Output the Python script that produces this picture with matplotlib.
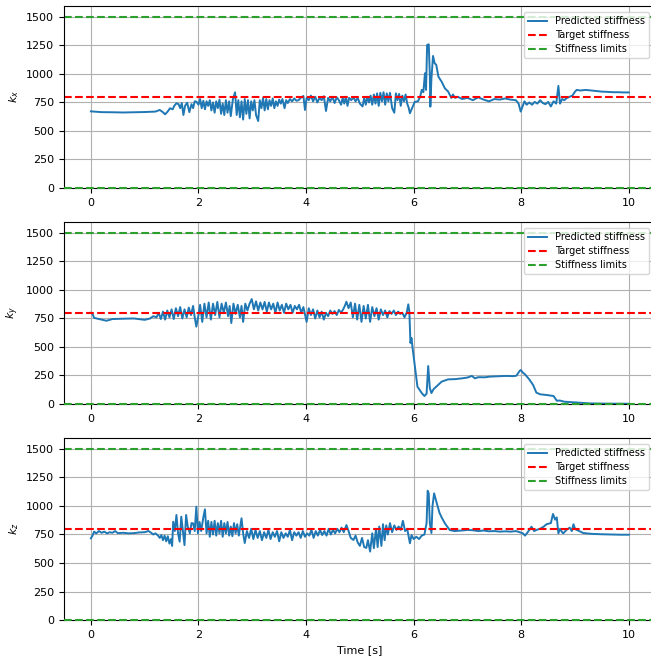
import numpy as np
import matplotlib
matplotlib.use('Agg')
import matplotlib.pyplot as plt

# predicted stiffness samples (time [s], value) for each axis
t_kx = [0.0, 0.2, 0.4, 0.6, 0.8, 1.0, 1.2, 1.28, 1.33, 1.38, 1.43, 1.47, 1.52, 1.55, 1.59, 1.63, 1.66, 1.69,
        1.72, 1.75, 1.79, 1.83, 1.87, 1.9, 1.93, 1.96, 2.0, 2.03, 2.06, 2.09, 2.12, 2.15, 2.18, 2.21, 2.24,
        2.27, 2.30, 2.33, 2.36, 2.39, 2.42, 2.45, 2.48, 2.51, 2.54, 2.57, 2.60, 2.64, 2.68, 2.71, 2.74, 2.77,
        2.80, 2.83, 2.86, 2.89, 2.92, 2.95, 2.98, 3.01, 3.04, 3.07, 3.11, 3.14, 3.17, 3.20, 3.23, 3.26, 3.29,
        3.32, 3.35, 3.38, 3.41, 3.44, 3.47, 3.50, 3.53, 3.56, 3.60, 3.63, 3.66, 3.70, 3.74, 3.78, 3.82, 3.86,
        3.90, 3.95, 3.98, 4.01, 4.05, 4.09, 4.13, 4.17, 4.21, 4.25, 4.29, 4.33, 4.37, 4.41, 4.45, 4.49, 4.53,
        4.57, 4.61, 4.65, 4.68, 4.71, 4.74, 4.77, 4.80, 4.84, 4.88, 4.92, 4.96, 5.00, 5.05, 5.08, 5.11, 5.14,
        5.17, 5.20, 5.23, 5.26, 5.29, 5.32, 5.35, 5.38, 5.41, 5.44, 5.47, 5.50, 5.53, 5.56, 5.60, 5.64, 5.67,
        5.70, 5.73, 5.76, 5.79, 5.82, 5.85, 5.88, 5.91, 5.93, 5.97, 6.02, 6.08, 6.12, 6.15, 6.18, 6.21, 6.23,
        6.25, 6.28, 6.30, 6.31, 6.33, 6.36, 6.39, 6.42, 6.46, 6.52, 6.58, 6.64, 6.70, 6.73, 6.77, 6.82, 6.90,
        7.0, 7.1, 7.2, 7.3, 7.4, 7.5, 7.6, 7.7, 7.8, 7.9, 7.95, 7.99, 8.03, 8.06, 8.1, 8.15, 8.2, 8.25, 8.3,
        8.35, 8.4, 8.45, 8.5, 8.55, 8.6, 8.65, 8.69, 8.72, 8.76, 8.8, 8.85, 8.9, 8.95, 9.0, 9.03, 9.1, 9.2,
        9.3, 9.4, 9.5, 9.6, 9.7, 9.8, 9.9, 10.0]
kx = [672, 665, 664, 662, 664, 666, 670, 684, 668, 646, 672, 699, 690, 720, 743, 735, 700, 745,
      640, 720, 748, 665, 735, 700, 760, 757, 730, 780, 700, 765, 690, 760, 720, 770, 680,
      750, 660, 760, 700, 775, 650, 740, 640, 770, 660, 760, 630, 780, 839, 640, 770, 620,
      760, 600, 780, 650, 770, 610, 760, 680, 770, 640, 587, 770, 700, 790, 680, 780, 690,
      770, 720, 785, 700, 760, 720, 775, 740, 780, 700, 770, 745, 780, 760, 785, 765, 770,
      790, 807, 684, 790, 770, 810, 760, 800, 750, 790, 770, 805, 675, 790, 760, 800, 745,
      795, 770, 730, 790, 740, 800, 720, 790, 770, 795, 760, 790, 740, 715, 790, 730, 800,
      750, 810, 730, 820, 740, 830, 720, 835, 760, 840, 730, 830, 760, 835, 700, 660, 830,
      770, 825, 720, 810, 760, 820, 740, 700, 655, 700, 755, 760, 800, 860, 840, 1006, 860,
      1254, 1260, 1000, 713, 960, 1158, 1094, 1080, 976, 932, 874, 846, 790, 820, 790, 800, 780,
      790, 770, 795, 775, 760, 780, 775, 785, 775, 770, 740, 670, 720, 760, 730, 750, 730, 755, 740,
      770, 745, 735, 755, 715, 760, 740, 895, 740, 780, 770, 790, 800, 810, 845, 860, 855, 860,
      855, 850, 845, 843, 840, 840, 838, 838]

t_ky = [0.0, 0.03, 0.06, 0.15, 0.29, 0.4, 0.6, 0.8, 1.0, 1.1, 1.16, 1.22, 1.26, 1.3, 1.34, 1.38, 1.42, 1.46,
        1.5, 1.54, 1.58, 1.62, 1.66, 1.70, 1.74, 1.78, 1.82, 1.86, 1.9, 1.93, 1.96, 2.0, 2.03, 2.07, 2.11,
        2.15, 2.19, 2.23, 2.27, 2.31, 2.35, 2.39, 2.43, 2.47, 2.51, 2.55, 2.58, 2.61, 2.65, 2.69, 2.73, 2.77,
        2.80, 2.83, 2.87, 2.91, 2.95, 2.99, 3.03, 3.07, 3.11, 3.15, 3.19, 3.23, 3.27, 3.31, 3.35, 3.39, 3.43,
        3.47, 3.51, 3.55, 3.59, 3.63, 3.67, 3.71, 3.75, 3.79, 3.83, 3.87, 3.91, 3.95, 4.01, 4.05, 4.09, 4.13,
        4.17, 4.21, 4.25, 4.29, 4.33, 4.37, 4.41, 4.45, 4.49, 4.53, 4.57, 4.61, 4.65, 4.69, 4.72, 4.75, 4.79,
        4.83, 4.87, 4.91, 4.95, 4.99, 5.03, 5.07, 5.11, 5.15, 5.19, 5.23, 5.27, 5.31, 5.35, 5.39, 5.43, 5.47,
        5.51, 5.55, 5.59, 5.63, 5.67, 5.71, 5.75, 5.79, 5.83, 5.87, 5.90, 5.92, 5.94, 5.96, 5.98, 6.02, 6.07,
        6.15, 6.2, 6.24, 6.27, 6.30, 6.33, 6.37, 6.42, 6.52, 6.64, 6.77, 6.9, 7.0, 7.08, 7.14, 7.2, 7.32,
        7.42, 7.55, 7.65, 7.73, 7.85, 7.91, 7.97, 7.99, 8.03, 8.07, 8.15, 8.22, 8.28, 8.35, 8.47, 8.6, 8.66,
        8.72, 8.8, 8.97, 9.28, 9.6, 10.0]
ky = [800, 790, 755, 745, 730, 745, 748, 750, 738, 750, 770, 760, 800, 745, 810, 740, 820, 760,
      830, 745, 840, 770, 850, 750, 830, 760, 845, 780, 860, 760, 678, 780, 870, 720, 880,
      760, 890, 740, 880, 780, 895, 760, 880, 800, 890, 770, 860, 710, 880, 790, 870, 760,
      860, 720, 880, 820, 880, 920, 830, 900, 820, 890, 830, 895, 810, 890, 830, 880, 800,
      890, 820, 870, 800, 880, 830, 870, 800, 860, 830, 870, 800, 850, 720, 840, 780, 830,
      750, 820, 760, 810, 740, 800, 770, 820, 790, 815, 780, 825, 800, 830, 860, 897, 840,
      890, 760, 880, 740, 870, 720, 860, 750, 870, 720, 850, 770, 840, 740, 830, 780, 820,
      760, 815, 790, 820, 780, 810, 790, 800, 760, 800, 874, 810, 535, 578, 490, 342, 152,
      96, 70, 90, 333, 140, 96, 130, 152, 196, 216, 218, 225, 232, 246, 225, 235, 234,
      240, 243, 245, 246, 244, 248, 290, 298, 275, 260, 215, 167, 100, 85, 79, 70, 29,
      30, 20, 15, 5, 3, 2]

t_kz = [0.0, 0.03, 0.06, 0.1, 0.15, 0.2, 0.25, 0.3, 0.35, 0.4, 0.45, 0.5, 0.6, 0.7, 0.8, 0.9, 1.0, 1.07,
        1.12, 1.16, 1.2, 1.25, 1.28, 1.31, 1.34, 1.37, 1.40, 1.43, 1.46, 1.49, 1.51, 1.53, 1.56, 1.59, 1.62,
        1.65, 1.68, 1.71, 1.74, 1.77, 1.80, 1.84, 1.87, 1.90, 1.93, 1.96, 1.99, 2.02, 2.05, 2.09, 2.12, 2.15,
        2.18, 2.21, 2.24, 2.27, 2.30, 2.33, 2.36, 2.39, 2.42, 2.45, 2.48, 2.51, 2.54, 2.57, 2.60, 2.63, 2.66,
        2.69, 2.72, 2.75, 2.80, 2.83, 2.86, 2.90, 2.94, 2.98, 3.02, 3.06, 3.10, 3.14, 3.18, 3.22, 3.26, 3.30,
        3.34, 3.38, 3.42, 3.46, 3.50, 3.54, 3.58, 3.62, 3.66, 3.70, 3.74, 3.78, 3.82, 3.86, 3.90, 3.94, 3.98,
        4.02, 4.06, 4.10, 4.14, 4.18, 4.22, 4.26, 4.30, 4.34, 4.38, 4.42, 4.46, 4.50, 4.54, 4.58, 4.62, 4.66,
        4.70, 4.75, 4.79, 4.83, 4.88, 4.92, 4.96, 5.0, 5.04, 5.08, 5.12, 5.15, 5.19, 5.23, 5.26, 5.30, 5.33,
        5.36, 5.40, 5.43, 5.46, 5.49, 5.52, 5.56, 5.60, 5.64, 5.68, 5.72, 5.76, 5.80, 5.84, 5.88, 5.93, 5.96,
        6.0, 6.05, 6.1, 6.15, 6.2, 6.24, 6.26, 6.28, 6.30, 6.33, 6.35, 6.38, 6.42, 6.48, 6.52, 6.58, 6.67,
        6.76, 6.9, 7.0, 7.1, 7.2, 7.3, 7.4, 7.5, 7.6, 7.7, 7.8, 7.9, 7.97, 8.03, 8.07, 8.12, 8.19, 8.24, 8.28,
        8.35, 8.42, 8.47, 8.55, 8.59, 8.63, 8.66, 8.69, 8.72, 8.76, 8.78, 8.84, 8.90, 8.94, 8.97, 9.0, 9.03,
        9.1, 9.15, 9.25, 9.33, 9.5, 9.7, 9.85, 10.0]
kz = [716, 740, 775, 760, 780, 765, 775, 760, 770, 765, 780, 762, 765, 760, 762, 768, 770, 781,
      765, 750, 760, 740, 720, 745, 700, 740, 690, 735, 670, 710, 650, 862, 780, 921, 760,
      687, 906, 780, 657, 921, 820, 760, 850, 848, 780, 994, 760, 860, 780, 900, 971, 760,
      870, 730, 860, 750, 870, 740, 850, 760, 870, 730, 850, 760, 860, 740, 820, 735, 850,
      760, 840, 740, 892, 760, 675, 780, 720, 800, 710, 790, 720, 780, 700, 770, 720, 790,
      710, 770, 730, 780, 690, 770, 720, 760, 730, 790, 700, 770, 740, 770, 720, 780, 730,
      760, 740, 790, 720, 780, 740, 790, 745, 780, 740, 800, 750, 790, 760, 800, 770, 810,
      770, 833, 780, 720, 702, 740, 680, 650, 720, 640, 632, 700, 600, 760, 630, 800, 640,
      820, 650, 840, 700, 830, 750, 850, 770, 830, 790, 820, 790, 870, 780, 800, 673, 745,
      710, 730, 710, 740, 750, 850, 1134, 1110, 850, 763, 1000, 1111, 1040, 940, 900, 848, 789,
      780, 785, 790, 787, 780, 785, 778, 780, 775, 778, 775, 780, 770, 760, 740, 770, 818, 780, 790,
      800, 820, 840, 850, 930, 880, 900, 760, 800, 770, 760, 790, 810, 780, 840, 800, 790,
      775, 763, 758, 755, 752, 750, 748, 748]

k_target = 800
k_limits = [0, 1500]
ylabels = ['$k_x$', '$k_y$', '$k_z$']

series = [(t_kx, kx), (t_ky, ky), (t_kz, kz)]

fig = plt.figure(figsize=(6.51, 6.6), dpi=100)
bottoms = [0.7152, 0.3879, 0.0606]

for i in range(3):
    ax = fig.add_axes([0.0983, bottoms[i], 0.909, 0.2764])
    t, k = series[i]
    ax.plot(np.array(t), np.array(k), color='C0', lw=1.4, label='Predicted stiffness')
    ax.axhline(k_target, color='r', ls='--', lw=1.5, label='Target stiffness')
    ax.axhline(k_limits[0], color='C2', ls='--', lw=1.5, label='Stiffness limits',
               zorder=3, clip_on=False)
    ax.axhline(k_limits[1], color='C2', ls='--', lw=1.5)
    ax.set_xlim(-0.5, 10.5)
    ax.set_ylim(0, 1600)
    ax.set_yticks([0, 250, 500, 750, 1000, 1250, 1500])
    ax.set_xticks([0, 2, 4, 6, 8, 10])
    ax.tick_params(labelsize=8)
    ax.set_ylabel(ylabels[i], fontsize=8)
    ax.grid(True)
    ax.legend(loc='upper right', fontsize=7, borderaxespad=0.7, labelspacing=0.4)
    if i == 2:
        ax.set_xlabel('Time [s]', fontsize=8)

plt.savefig('out.png', dpi=100)
